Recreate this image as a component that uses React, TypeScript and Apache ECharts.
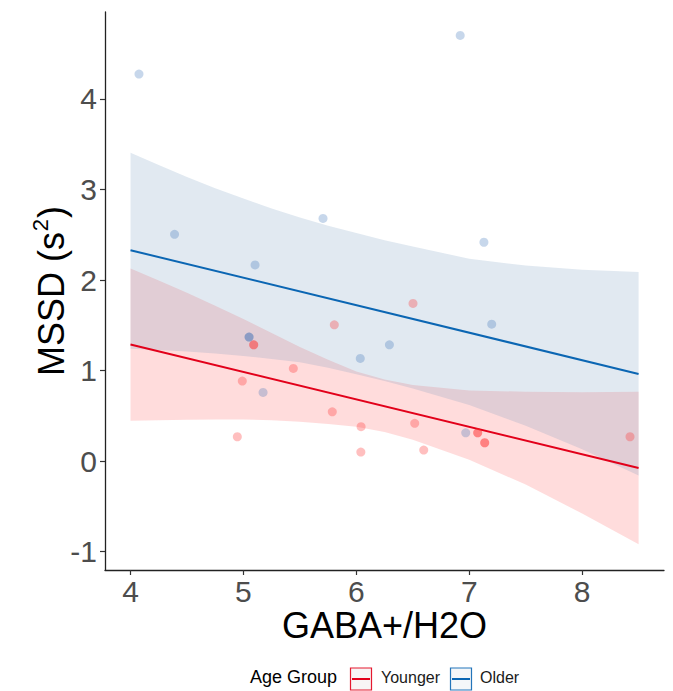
import React, { useEffect, useRef } from "react";
import * as echarts from "echarts";

// ---- Data ----
const OLDER_X = [4.075, 4.39, 5.103, 5.705, 6.92, 7.13, 5.05, 5.05, 6.035, 6.293, 5.174, 7.199, 6.969];
const OLDER_Y = [4.275, 2.505, 2.167, 2.68, 4.702, 2.417, 1.369, 1.369, 1.134, 1.284, 0.758, 1.512, 0.312];

const YOUNGER_X = [5.091, 5.091, 5.805, 6.502, 5.442, 4.99, 5.787, 6.042, 4.946, 6.04, 6.517, 6.597, 7.075, 7.075, 7.137, 7.137, 8.424];
const YOUNGER_Y = [1.284, 1.284, 1.505, 1.741, 1.023, 0.883, 0.544, 0.379, 0.268, 0.099, 0.416, 0.121, 0.312, 0.312, 0.202, 0.202, 0.268];

// fitted lines (end points)
const FIT_X = [4.0, 8.5];
const OLDER_FIT = [2.329, 0.962];
const YOUNGER_FIT = [1.288, -0.078];

// confidence bands
const BAND_X = [4.0, 4.25, 4.5, 4.75, 5.0, 5.25, 5.5, 5.75, 6.0, 6.25, 6.5, 7.0, 7.5, 8.0, 8.5];
const YOUNGER_LOWER = [0.445, 0.45, 0.455, 0.458, 0.46, 0.45, 0.435, 0.41, 0.38, 0.32, 0.235, 0.015, -0.26, -0.58, -0.92];
const YOUNGER_UPPER = [2.127, 1.995, 1.86, 1.715, 1.57, 1.415, 1.26, 1.12, 0.99, 0.9, 0.84, 0.78, 0.765, 0.76, 0.765];
const OLDER_LOWER = [1.24, 1.228, 1.21, 1.188, 1.16, 1.128, 1.09, 1.03, 0.96, 0.885, 0.8, 0.62, 0.39, 0.13, -0.16];
const OLDER_UPPER = [3.407, 3.27, 3.138, 3.015, 2.9, 2.79, 2.69, 2.6, 2.52, 2.44, 2.37, 2.235, 2.16, 2.113, 2.089];

const X_TICKS = [4, 5, 6, 7, 8];
const Y_TICKS = [-1, 0, 1, 2, 3, 4];

const GROUPS = ["Younger", "Older"];
const RED = "#E2001A";
const BLUE = "#0B66B3";
const FONT = "'Liberation Sans', Arial, Helvetica, sans-serif";

function bandSeries(name: string, xs: number[], lo: number[], hi: number[], fill: string) {
  return {
    type: "custom",
    name,
    silent: true,
    z: 1,
    data: xs.map((x, i) => [x, lo[i], hi[i]]),
    encode: { x: 0, y: [1, 2] },
    renderItem: (params: any, api: any) => {
      if (params.dataIndex !== 0) return null;
      const pts: number[][] = [];
      for (let i = 0; i < xs.length; i++) pts.push(api.coord([xs[i], hi[i]]));
      for (let i = xs.length - 1; i >= 0; i--) pts.push(api.coord([xs[i], lo[i]]));
      return { type: "polygon", shape: { points: pts }, style: { fill } };
    },
  };
}

export default function App() {
  const ref = useRef<HTMLDivElement>(null);
  useEffect(() => {
    if (!ref.current) return;
    const chart = echarts.init(ref.current, null, { renderer: "svg" });
    const legendY = 679;
    const option: any = {
      animation: false,
      backgroundColor: "#ffffff",
      grid: { left: 105, right: 9, top: 12, bottom: 121, containLabel: false },
      xAxis: {
        type: "value",
        min: 3.774,
        max: 8.725,
        name: "GABA+/H2O",
        nameLocation: "middle",
        nameGap: 37,
        nameMoveOverlap: false,
        nameTextStyle: { fontSize: 36, color: "#000", fontFamily: FONT },
        axisLine: { show: true, onZero: false, lineStyle: { color: "#222", width: 1.3 } },
        axisTick: { show: true, length: 5, customValues: X_TICKS, lineStyle: { color: "#333", width: 1.2 } },
        axisLabel: { customValues: X_TICKS, fontSize: 30, color: "#4D4D4D", margin: 6, fontFamily: FONT },
        splitLine: { show: false },
      },
      yAxis: {
        type: "value",
        min: -1.204,
        max: 4.961,
        name: "{a|MSSD (s}{sup|2}{a|)}",
        nameLocation: "middle",
        nameGap: 36,
        nameMoveOverlap: false,
        nameTextStyle: {
          fontFamily: FONT,
          color: "#000",
          rich: {
            a: { fontSize: 36, lineHeight: 40, fontFamily: FONT, color: "#000", verticalAlign: "bottom" },
            sup: { fontSize: 22, lineHeight: 40, fontFamily: FONT, color: "#000", verticalAlign: "top", padding: [0, 1, 14, 1] },
          },
        },
        axisLine: { show: true, onZero: false, lineStyle: { color: "#222", width: 1.3 } },
        axisTick: { show: true, length: 5, customValues: Y_TICKS, lineStyle: { color: "#333", width: 1.2 } },
        axisLabel: { customValues: Y_TICKS, fontSize: 30, color: "#4D4D4D", margin: 8, fontFamily: FONT },
        splitLine: { show: false },
      },
      series: [
        bandSeries("Younger band", BAND_X, YOUNGER_LOWER, YOUNGER_UPPER, "rgba(255,80,80,0.2)"),
        bandSeries("Older band", BAND_X, OLDER_LOWER, OLDER_UPPER, "rgba(107,143,184,0.2)"),
        {
          type: "line",
          name: GROUPS[0],
          z: 3,
          data: FIT_X.map((x, i) => [x, YOUNGER_FIT[i]]),
          showSymbol: false,
          lineStyle: { color: RED, width: 2 },
          itemStyle: { color: RED },
        },
        {
          type: "line",
          name: GROUPS[1],
          z: 3,
          data: FIT_X.map((x, i) => [x, OLDER_FIT[i]]),
          showSymbol: false,
          lineStyle: { color: BLUE, width: 2 },
          itemStyle: { color: BLUE },
        },
        {
          type: "scatter",
          name: "Younger points",
          z: 4,
          symbolSize: 9,
          data: YOUNGER_X.map((x, i) => [x, YOUNGER_Y[i]]),
          itemStyle: { color: "#FF2A2A", opacity: 0.3 },
        },
        {
          type: "scatter",
          name: "Older points",
          z: 4,
          symbolSize: 9,
          data: OLDER_X.map((x, i) => [x, OLDER_Y[i]]),
          itemStyle: { color: "#1F5FAF", opacity: 0.25 },
        },
      ],
      graphic: [
        {
          type: "text",
          left: 250,
          top: legendY - 11,
          style: { text: "Age Group", fontSize: 18, fill: "#000", fontFamily: FONT },
        },
        {
          type: "rect",
          shape: { x: 350.5, y: legendY - 11, width: 21, height: 22 },
          style: { fill: "#F7F4F4", stroke: RED, lineWidth: 1.2, opacity: 0.9 },
        },
        {
          type: "line",
          shape: { x1: 352, y1: legendY, x2: 370, y2: legendY },
          style: { stroke: RED, lineWidth: 2 },
        },
        {
          type: "text",
          left: 381,
          top: legendY - 10,
          style: { text: GROUPS[0], fontSize: 16, fill: "#1a1a1a", fontFamily: FONT },
        },
        {
          type: "rect",
          shape: { x: 450.5, y: legendY - 11, width: 21, height: 22 },
          style: { fill: "#F4F6F8", stroke: BLUE, lineWidth: 1.2, opacity: 0.9 },
        },
        {
          type: "line",
          shape: { x1: 452, y1: legendY, x2: 470, y2: legendY },
          style: { stroke: BLUE, lineWidth: 2 },
        },
        {
          type: "text",
          left: 480,
          top: legendY - 10,
          style: { text: GROUPS[1], fontSize: 16, fill: "#1a1a1a", fontFamily: FONT },
        },
      ],
    };
    chart.setOption(option);
    return () => chart.dispose();
  }, []);
  return (
    <div
      ref={ref}
      style={{ position: "fixed", left: 0, top: 0, width: 673, height: 691, background: "#fff" }}
    />
  );
}
